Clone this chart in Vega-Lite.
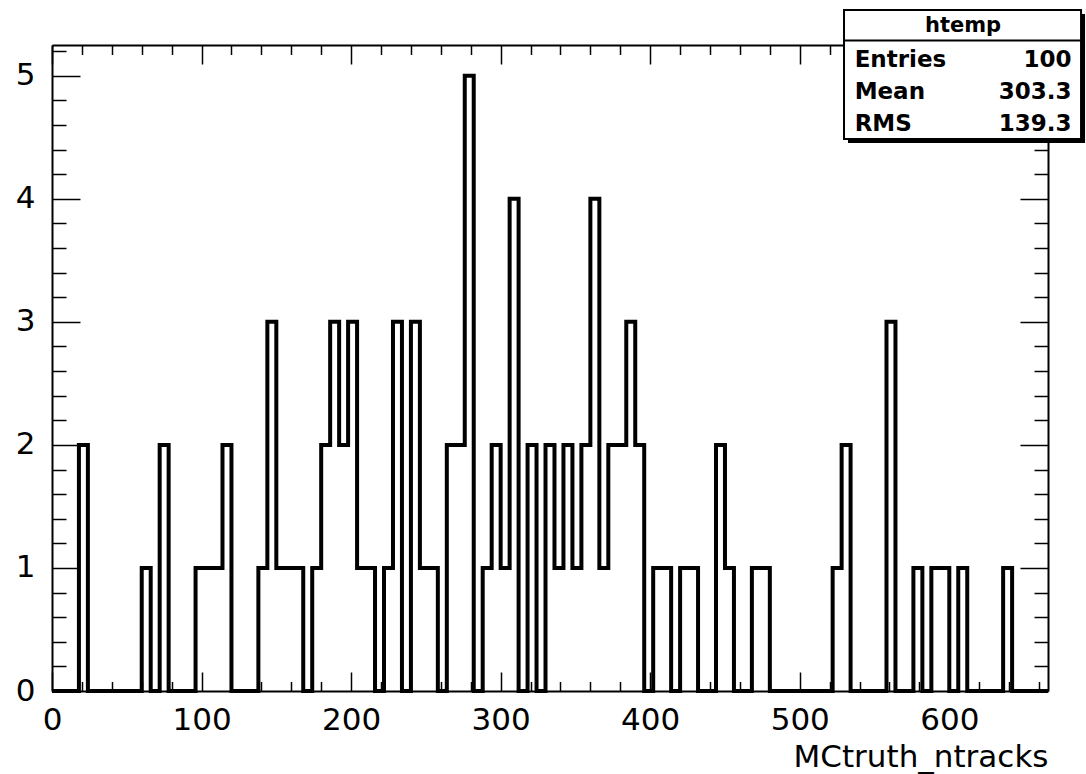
{
  "$schema": "https://vega.github.io/schema/vega-lite/v6.json",
  "width": 996,
  "height": 646,
  "autosize": "none",
  "padding": {"left": 52, "top": 45, "right": 38, "bottom": 83},
  "background": "white",
  "config": {
    "view": {"stroke": null},
    "axis": {
      "grid": false,
      "domainColor": "black",
      "domainWidth": 2,
      "tickColor": "black",
      "tickWidth": 1.5,
      "tickCount": 200,
      "labelFont": "DejaVu Sans",
      "labelFontSize": 31,
      "labelColor": "black",
      "labelFlush": false,
      "labelOverlap": false,
      "labelBound": false
    }
  },
  "datasets": {
    "hist": [
      {"x": 0, "n": 0}, {"x": 6, "n": 0}, {"x": 12, "n": 0}, {"x": 18, "n": 2}, {"x": 24, "n": 0},
      {"x": 30, "n": 0}, {"x": 36, "n": 0}, {"x": 42, "n": 0}, {"x": 48, "n": 0}, {"x": 54, "n": 0},
      {"x": 60, "n": 1}, {"x": 66, "n": 0}, {"x": 72, "n": 2}, {"x": 78, "n": 0}, {"x": 84, "n": 0},
      {"x": 90, "n": 0}, {"x": 96, "n": 1}, {"x": 102, "n": 1}, {"x": 108, "n": 1}, {"x": 114, "n": 2},
      {"x": 120, "n": 0}, {"x": 126, "n": 0}, {"x": 132, "n": 0}, {"x": 138, "n": 1}, {"x": 144, "n": 3},
      {"x": 150, "n": 1}, {"x": 156, "n": 1}, {"x": 162, "n": 1}, {"x": 168, "n": 0}, {"x": 174, "n": 1},
      {"x": 180, "n": 2}, {"x": 186, "n": 3}, {"x": 192, "n": 2}, {"x": 198, "n": 3}, {"x": 204, "n": 1},
      {"x": 210, "n": 1}, {"x": 216, "n": 0}, {"x": 222, "n": 1}, {"x": 228, "n": 3}, {"x": 234, "n": 0},
      {"x": 240, "n": 3}, {"x": 246, "n": 1}, {"x": 252, "n": 1}, {"x": 258, "n": 0}, {"x": 264, "n": 2},
      {"x": 270, "n": 2}, {"x": 276, "n": 5}, {"x": 282, "n": 0}, {"x": 288, "n": 1}, {"x": 294, "n": 2},
      {"x": 300, "n": 1}, {"x": 306, "n": 4}, {"x": 312, "n": 0}, {"x": 318, "n": 2}, {"x": 324, "n": 0},
      {"x": 330, "n": 2}, {"x": 336, "n": 1}, {"x": 342, "n": 2}, {"x": 348, "n": 1}, {"x": 354, "n": 2},
      {"x": 360, "n": 4}, {"x": 366, "n": 1}, {"x": 372, "n": 2}, {"x": 378, "n": 2}, {"x": 384, "n": 3},
      {"x": 390, "n": 2}, {"x": 396, "n": 0}, {"x": 402, "n": 1}, {"x": 408, "n": 1}, {"x": 414, "n": 0},
      {"x": 420, "n": 1}, {"x": 426, "n": 1}, {"x": 432, "n": 0}, {"x": 438, "n": 0}, {"x": 444, "n": 2},
      {"x": 450, "n": 1}, {"x": 456, "n": 0}, {"x": 462, "n": 0}, {"x": 468, "n": 1}, {"x": 474, "n": 1},
      {"x": 480, "n": 0}, {"x": 486, "n": 0}, {"x": 492, "n": 0}, {"x": 498, "n": 0}, {"x": 504, "n": 0},
      {"x": 510, "n": 0}, {"x": 516, "n": 0}, {"x": 522, "n": 1}, {"x": 528, "n": 2}, {"x": 534, "n": 0},
      {"x": 540, "n": 0}, {"x": 546, "n": 0}, {"x": 552, "n": 0}, {"x": 558, "n": 3}, {"x": 564, "n": 0},
      {"x": 570, "n": 0}, {"x": 576, "n": 1}, {"x": 582, "n": 0}, {"x": 588, "n": 1}, {"x": 594, "n": 1},
      {"x": 600, "n": 0}, {"x": 606, "n": 1}, {"x": 612, "n": 0}, {"x": 618, "n": 0}, {"x": 624, "n": 0},
      {"x": 630, "n": 0}, {"x": 636, "n": 1}, {"x": 642, "n": 0}, {"x": 648, "n": 0}, {"x": 654, "n": 0},
      {"x": 660, "n": 0}, {"x": 666, "n": 0}
    ],
    "stats": [
      {"title": "htemp", "labels": ["Entries", "Mean", "RMS"], "vals": ["100", "303.3", "139.3"]}
    ]
  },
  "layer": [
    {
      "data": {"name": "hist"},
      "mark": {"type": "line", "interpolate": "step-after", "color": "black", "strokeWidth": 4, "strokeJoin": "miter"},
      "encoding": {
        "x": {
          "field": "x", "type": "quantitative",
          "scale": {"domain": [0, 666], "nice": false, "zero": false},
          "axis": {
            "orient": "bottom",
            "values": [0,20,40,60,80,100,120,140,160,180,200,220,240,260,280,300,320,340,360,380,400,420,440,460,480,500,520,540,560,580,600,620,640,660],
            "tickSize": {"condition": {"test": "datum.value % 100 === 0", "value": -19}, "value": -9.5},
            "labelExpr": "datum.value % 100 === 0 ? format(datum.value, 'd') : ''",
            "labelPadding": 57,
            "labelBaseline": "alphabetic",
            "title": "MCtruth_ntracks",
            "titleAnchor": "end",
            "titleAlign": "right",
            "titleBaseline": "alphabetic",
            "titleX": 996,
            "titleY": 75,
            "titleFont": "DejaVu Sans",
            "titleFontSize": 31,
            "titleFontWeight": "normal",
            "titleColor": "black"
          }
        },
        "y": {
          "field": "n", "type": "quantitative",
          "scale": {"domain": [0, 5.25], "nice": false},
          "axis": {
            "orient": "left",
            "values": [0,0.2,0.4,0.6,0.8,1,1.2,1.4,1.6,1.8,2,2.2,2.4,2.6,2.8,3,3.2,3.4,3.6,3.8,4,4.2,4.4,4.6,4.8,5,5.2],
            "tickSize": {"condition": {"test": "abs(datum.value - round(datum.value)) < 0.001", "value": -28}, "value": -14},
            "labelExpr": "abs(datum.value - round(datum.value)) < 0.001 ? format(datum.value, 'd') : ''",
            "labelAlign": "right",
            "labelBaseline": "middle",
            "labelPadding": 45,
            "title": null
          }
        }
      }
    },
    {
      "data": {"name": "stats"},
      "mark": {"type": "rect", "fill": "black", "xOffset": 4, "x2Offset": 4, "yOffset": 4, "y2Offset": 4},
      "encoding": {
        "x": {
          "datum": 529.6, "type": "quantitative",
          "axis": {
            "orient": "top",
            "values": [0,20,40,60,80,100,120,140,160,180,200,220,240,260,280,300,320,340,360,380,400,420,440,460,480,500,520,540,560,580,600,620,640,660],
            "tickSize": {"condition": {"test": "datum.value % 100 === 0", "value": -19}, "value": -9.5},
            "labels": false,
            "title": null
          }
        },
        "x2": {"datum": 688.1},
        "y": {
          "datum": 5.534, "type": "quantitative",
          "axis": {
            "orient": "right",
            "values": [0,0.2,0.4,0.6,0.8,1,1.2,1.4,1.6,1.8,2,2.2,2.4,2.6,2.8,3,3.2,3.4,3.6,3.8,4,4.2,4.4,4.6,4.8,5,5.2],
            "tickSize": {"condition": {"test": "abs(datum.value - round(datum.value)) < 0.001", "value": -28}, "value": -14},
            "labels": false,
            "title": null
          }
        },
        "y2": {"datum": 4.486}
      }
    },
    {
      "data": {"name": "stats"},
      "mark": {"type": "rect", "fill": "white", "stroke": "black", "strokeWidth": 2},
      "encoding": {
        "x": {"datum": 529.6, "type": "quantitative", "axis": null},
        "x2": {"datum": 688.1},
        "y": {"datum": 5.534, "type": "quantitative", "axis": null},
        "y2": {"datum": 4.486}
      }
    },
    {
      "data": {"name": "stats"},
      "mark": {"type": "rule", "color": "black", "strokeWidth": 2},
      "encoding": {
        "x": {"datum": 529.6, "type": "quantitative", "axis": null},
        "x2": {"datum": 688.1},
        "y": {"datum": 5.286, "type": "quantitative", "axis": null}
      }
    },
    {
      "data": {"name": "stats"},
      "mark": {"type": "text", "font": "DejaVu Sans", "fontWeight": "bold", "fontSize": 21, "align": "center", "baseline": "alphabetic", "color": "black"},
      "encoding": {
        "text": {"field": "title", "type": "nominal"},
        "x": {"datum": 609.2, "type": "quantitative", "axis": null},
        "y": {"datum": 5.358, "type": "quantitative", "axis": null}
      }
    },
    {
      "data": {"name": "stats"},
      "mark": {"type": "text", "font": "DejaVu Sans", "fontWeight": "bold", "fontSize": 23, "align": "left", "baseline": "alphabetic", "lineHeight": 32, "color": "black"},
      "encoding": {
        "text": {"field": "labels", "type": "nominal"},
        "x": {"datum": 536.7, "type": "quantitative", "axis": null},
        "y": {"datum": 5.073, "type": "quantitative", "axis": null}
      }
    },
    {
      "data": {"name": "stats"},
      "mark": {"type": "text", "font": "DejaVu Sans", "fontWeight": "bold", "fontSize": 23, "align": "right", "baseline": "alphabetic", "lineHeight": 32, "color": "black"},
      "encoding": {
        "text": {"field": "vals", "type": "nominal"},
        "x": {"datum": 681.7, "type": "quantitative", "axis": null},
        "y": {"datum": 5.073, "type": "quantitative", "axis": null}
      }
    }
  ],
  "resolve": {"axis": {"x": "independent", "y": "independent"}}
}
